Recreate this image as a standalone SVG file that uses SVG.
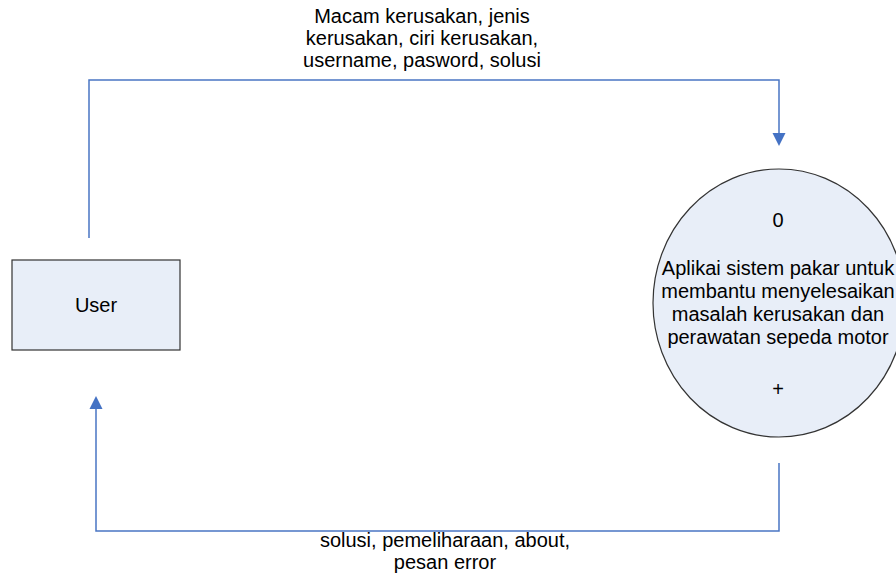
<svg xmlns="http://www.w3.org/2000/svg" width="896" height="575" viewBox="0 0 896 575">
  <style>
    text { font-family: "Liberation Sans", Arial, sans-serif; font-size: 20px; fill: #000; text-anchor: middle; }
    .shape { fill: #E8EEF8; stroke: #333; stroke-width: 1.2; }
    .flow { fill: none; stroke: #4A76C4; stroke-width: 1.5; }
    .head { fill: #4472C4; }
  </style>
  <rect width="896" height="575" fill="#fff"/>

  <g id="connectors">
    <!-- User to process -->
    <polyline class="flow" points="89,238 89,80 779,80 779,134"/>
    <polygon class="head" points="772.5,133 785.5,133 779,146"/>
    <!-- process back to User -->
    <polyline class="flow" points="779,463 779,531 96,531 96,408"/>
    <polygon class="head" points="89.5,409 102.5,409 96,396"/>
  </g>

  <g id="label-input">
    <text x="422" y="23">Macam kerusakan, jenis</text>
    <text x="422" y="45">kerusakan, ciri kerusakan,</text>
    <text x="422" y="67">username, pasword, solusi</text>
  </g>

  <g id="label-output">
    <text x="445" y="547">solusi, pemeliharaan, about,</text>
    <text x="445" y="569">pesan error</text>
  </g>

  <g id="user">
    <rect class="shape" x="12" y="260" width="168" height="90"/>
    <text x="96" y="312">User</text>
  </g>

  <g id="process-0">
    <ellipse class="shape" cx="779" cy="303" rx="126" ry="134"/>
    <text x="778" y="227">0</text>
    <text x="778" y="275">Aplikai sistem pakar untuk</text>
    <text x="778" y="298">membantu menyelesaikan</text>
    <text x="778" y="321">masalah kerusakan dan</text>
    <text x="778" y="344">perawatan sepeda motor</text>
    <text x="778" y="396">+</text>
  </g>
</svg>
